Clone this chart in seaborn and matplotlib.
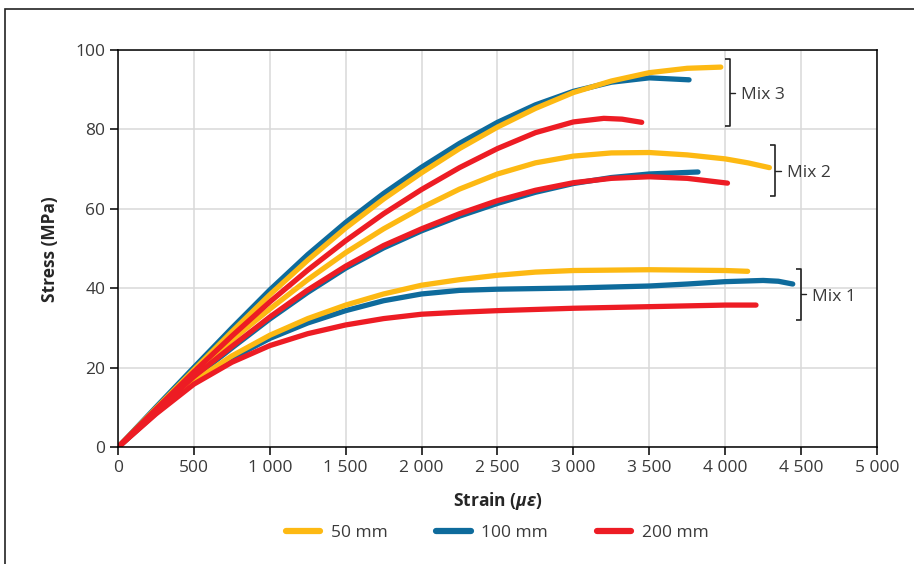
import matplotlib
matplotlib.use("Agg")
import matplotlib.pyplot as plt
from matplotlib.lines import Line2D
from matplotlib.patches import Rectangle
import pandas as pd
import seaborn as sns

# strain (micro-strain) / stress (MPa)
# mix 3
m3_50_x = [0, 250, 500, 750, 1000, 1250, 1500, 1750, 2000, 2250, 2500, 2750, 3000, 3250, 3500, 3750, 3971]
m3_50_y = [0, 9.8, 19.5, 29.1, 38.4, 47.1, 55.2, 62.5, 69.1, 75.2, 80.6, 85.3, 89.3, 92.2, 94.3, 95.4, 95.7]
m3_100_x = [0, 250, 500, 750, 1000, 1250, 1500, 1750, 2000, 2250, 2500, 2750, 3000, 3250, 3500, 3762]
m3_100_y = [0, 10.1, 20.1, 30, 39.6, 48.5, 56.6, 63.9, 70.5, 76.5, 81.8, 86.2, 89.6, 91.9, 93.0, 92.5]
m3_200_x = [0, 250, 500, 750, 1000, 1250, 1500, 1750, 2000, 2250, 2500, 2750, 3000, 3200, 3320, 3450]
m3_200_y = [0, 9.6, 19, 28, 36.6, 44.6, 52, 58.8, 64.9, 70.4, 75.2, 79.2, 81.9, 82.8, 82.6, 81.8]
# mix 2
m2_50_x = [0, 250, 500, 750, 1000, 1250, 1500, 1750, 2000, 2250, 2500, 2750, 3000, 3250, 3500, 3750, 4000, 4150, 4291]
m2_50_y = [0, 9.5, 18.8, 27, 34.8, 42.2, 49, 55, 60.3, 65, 68.8, 71.6, 73.3, 74.1, 74.2, 73.6, 72.6, 71.6, 70.4]
m2_100_x = [0, 250, 500, 750, 1000, 1250, 1500, 1750, 2000, 2250, 2500, 2750, 3000, 3250, 3500, 3821]
m2_100_y = [0, 9, 17.5, 25, 32.3, 39, 45.1, 50.2, 54.5, 58.2, 61.4, 64.2, 66.4, 67.9, 68.8, 69.3]
m2_200_x = [0, 250, 500, 750, 1000, 1250, 1500, 1750, 2000, 2250, 2500, 2750, 3000, 3250, 3500, 3750, 4015]
m2_200_y = [0, 9.2, 17.8, 25.4, 32.8, 39.6, 45.6, 50.8, 55, 58.8, 62.1, 64.7, 66.6, 67.7, 68.1, 67.7, 66.5]
# mix 1
m1_50_x = [0, 250, 500, 750, 1000, 1250, 1500, 1750, 2000, 2250, 2500, 2750, 3000, 3500, 4000, 4148]
m1_50_y = [0, 8.8, 16.6, 23, 28.2, 32.4, 35.8, 38.6, 40.8, 42.2, 43.3, 44.1, 44.5, 44.7, 44.5, 44.3]
m1_100_x = [0, 250, 500, 750, 1000, 1250, 1500, 1750, 2000, 2250, 2500, 3000, 3500, 3750, 4000, 4250, 4350, 4445]
m1_100_y = [0, 8.6, 16.3, 22.4, 27.4, 31.3, 34.4, 36.9, 38.6, 39.5, 39.8, 40.1, 40.6, 41.1, 41.7, 42, 41.8, 41.1]
m1_200_x = [0, 250, 500, 750, 1000, 1250, 1500, 1750, 2000, 2250, 2500, 3000, 3500, 4000, 4203]
m1_200_y = [0, 8.4, 15.9, 21.4, 25.6, 28.6, 30.8, 32.4, 33.5, 34.0, 34.4, 35, 35.4, 35.8, 35.8]
# short 200 mm specimen
s_200_x = [0, 190, 387]
s_200_y = [0, 7, 14]

sizes = ["50 mm", "100 mm", "200 mm"]
colors = {"50 mm": "#FDB913", "100 mm": "#0E6B9C", "200 mm": "#ED1C24"}
xtick_vals = [0, 500, 1000, 1500, 2000, 2500, 3000, 3500, 4000, 4500, 5000]
xtick_labels = ["0", "500", "1 000", "1 500", "2 000", "2 500", "3 000", "3 500", "4 000", "4 500", "5 000"]
ytick_vals = [0, 20, 40, 60, 80, 100]
mix_names = ["Mix 3", "Mix 2", "Mix 1"]
bracket_x = [4032, 4330, 4500]
bracket_top = [97.7, 76.0, 45.0]
bracket_bot = [80.8, 63.2, 32.0]

curves = [
    ("Mix 3", "50 mm", m3_50_x, m3_50_y), ("Mix 3", "100 mm", m3_100_x, m3_100_y),
    ("Mix 3", "200 mm", m3_200_x, m3_200_y), ("Mix 2", "50 mm", m2_50_x, m2_50_y),
    ("Mix 2", "100 mm", m2_100_x, m2_100_y), ("Mix 2", "200 mm", m2_200_x, m2_200_y),
    ("Mix 1", "50 mm", m1_50_x, m1_50_y), ("Mix 1", "100 mm", m1_100_x, m1_100_y),
    ("Mix 1", "200 mm", m1_200_x, m1_200_y), ("short", "200 mm", s_200_x, s_200_y),
]
rows = []
for mix, size, xs, ys in curves:
    for a, b in zip(xs, ys):
        rows.append({"mix": mix, "size": size, "strain": a, "stress": b})
df = pd.DataFrame(rows)

sns.set_theme(style="white")
plt.rcParams["font.family"] = ["Open Sans", "DejaVu Sans"]
plt.rcParams["mathtext.fontset"] = "custom"
plt.rcParams["mathtext.it"] = "Open Sans:italic:bold"
plt.rcParams["mathtext.rm"] = "Open Sans:bold"

fig = plt.figure(figsize=(9.14, 5.64), dpi=100)
ax = fig.add_axes([0.1291, 0.2069, 0.8304, 0.7044])

# draw order: blue under, then yellow, red on top
for size in ["100 mm", "50 mm", "200 mm"]:
    sub = df[df["size"] == size]
    sns.lineplot(data=sub, x="strain", y="stress", units="mix", estimator=None,
                 sort=False, color=colors[size], linewidth=3.8, ax=ax, legend=False)
for ln in ax.lines:
    ln.set_solid_capstyle("round")
    ln.set_solid_joinstyle("round")

ax.set_xlim(0, 5000)
ax.set_ylim(0, 100)
ax.set_xticks(xtick_vals)
ax.set_xticklabels(xtick_labels)
ax.set_yticks(ytick_vals)
ax.grid(True, color="#d9d9d9", linewidth=1.1)
ax.set_axisbelow(True)
for sp in ax.spines.values():
    sp.set_color("black")
    sp.set_linewidth(1.1)
ax.tick_params(axis="both", which="both", direction="out", length=6, width=1.1,
               color="black", labelsize=12.5, labelcolor="#3a3a3a", pad=3,
               bottom=True, left=True)
ax.set_xlabel(r"Strain ($\mu\varepsilon$)", fontsize=12.5, fontweight="bold", labelpad=10)
ax.set_ylabel("Stress (MPa)", fontsize=12.5, fontweight="bold", labelpad=12)

# brackets marking each mix
hook = 35
for name, bx, top, bot in zip(mix_names, bracket_x, bracket_top, bracket_bot):
    mid = (top + bot) / 2
    ax.plot([bx - hook, bx, bx, bx - hook], [top, top, bot, bot], color="#222222",
            linewidth=1.2, clip_on=False, solid_capstyle="butt")
    ax.plot([bx, bx + hook], [mid, mid], color="#222222", linewidth=1.0, clip_on=False)
    ax.text(bx + 75, mid - 0.6, name, fontsize=12.5, color="#3a3a3a", va="center", ha="left")

handles = [Line2D([0], [0], color=colors[s], linewidth=4.5, solid_capstyle="round") for s in sizes]
fig.legend(handles, sizes, loc="center", bbox_to_anchor=(0.544, 0.055), ncol=3,
           frameon=False, fontsize=12.5, handlelength=2.0, handletextpad=0.6,
           columnspacing=2.8, labelcolor="#3a3a3a")

# outer frame of the figure panel
fig.patches.append(Rectangle((5 / 914, -0.05), 1.0, 1 - 9 / 564 + 0.05,
                             transform=fig.transFigure, fill=False,
                             edgecolor="#222222", linewidth=1.2))

fig.savefig("out.png", dpi=100)
